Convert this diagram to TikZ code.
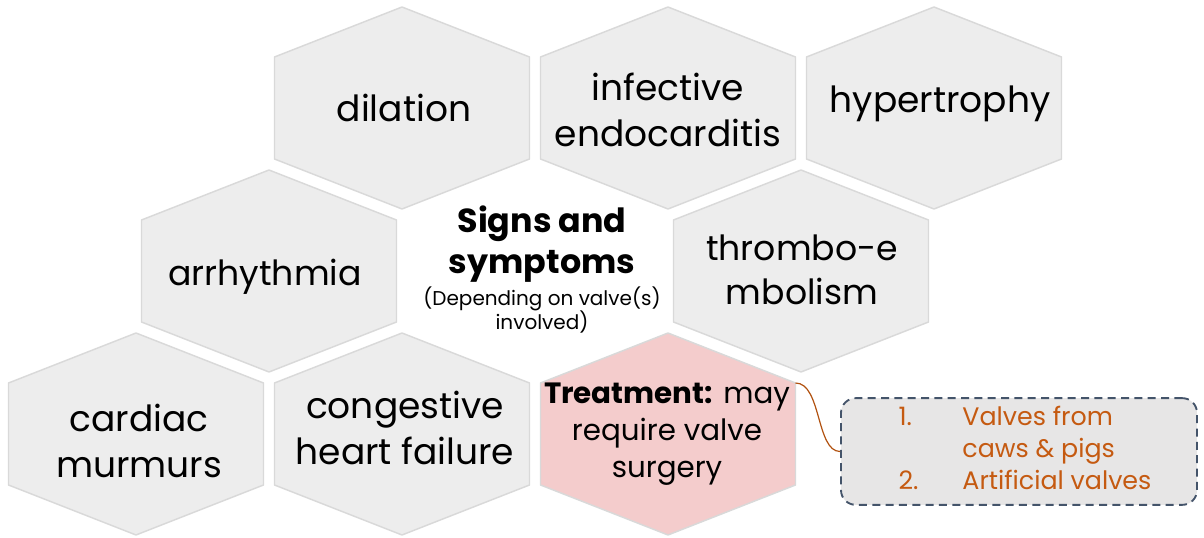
\documentclass[tikz,border=0pt]{standalone}
\usepackage{fontspec}
\setmainfont{Poppins}
\usetikzlibrary{positioning}

\definecolor{hexgray}{RGB}{237,237,237}
\definecolor{hexedge}{RGB}{217,217,217}
\definecolor{hexpink}{RGB}{244,204,204}
\definecolor{boxfill}{RGB}{231,230,230}
\definecolor{boxedge}{RGB}{68,84,106}
\definecolor{rust}{RGB}{197,90,17}

\tikzset{
  hexcell/.style={draw=hexedge, line width=1.1pt, line join=round},
  celltext/.style={align=center, text=black, font=\fontsize{27}{34}\selectfont},
  optionbox/.style={draw=boxedge, fill=boxfill, dashed, line width=1.4pt,
    dash pattern=on 6pt off 4pt, rounded corners=11pt,
    minimum width=267pt, minimum height=80pt, inner sep=0pt},
  calloutline/.style={draw=rust!90!black, line width=0.9pt}
}

\begin{document}
\begin{tikzpicture}[x=0.75pt, y=-0.75pt]
  \useasboundingbox (0,0) rectangle (1204,538);
  % Draw the honeycomb cells
  \foreach \cx/\cy/\col in {402/108/hexgray, 668/108/hexgray, 934/108/hexgray,
                            269/271/hexgray, 801/271/hexgray,
                            136/434/hexgray, 402/434/hexgray, 668/434/hexpink} {
    \filldraw[hexcell, fill=\col] (\cx,\cy-101) -- (\cx+127.5,\cy-51) -- (\cx+127.5,\cy+51)
      -- (\cx,\cy+101) -- (\cx-127.5,\cy+51) -- (\cx-127.5,\cy-51) -- cycle;
  }

  % Cell labels
  \node[celltext] (dilation) at (404,108) {dilation};
  \node[celltext] (endocarditis) at (668,110) {infective\\endocarditis};
  \node[celltext] (hypertrophy) at (940,104) {hypertrophy};
  \node[celltext, font=\fontsize{26}{33}\selectfont] (arrhythmia) at (265,277) {arrhythmia};
  \node[celltext, font=\fontsize{26}{33}\selectfont] (thrombo) at (802,270) {thrombo-e\\mbolism};
  \node[celltext] (murmurs) at (139,441) {cardiac\\murmurs};
  \node[celltext] (heartfail) at (405,428) {congestive\\heart failure};
  \node[celltext, font=\fontsize{22}{28}\selectfont] (treatment) at (667,434)
    {\textbf{Treatment:} may\\require valve\\surgery};

  % Centre of the honeycomb
  \node[align=center, font=\fontsize{25}{31}\selectfont\bfseries] (signs) at (542,244)
    {Signs and\\symptoms};
  \node[align=center, font=\fontsize{15}{18.5}\selectfont, below=-4pt of signs] (signsnote)
    {(Depending on valve(s)\\involved)};

  % Treatment options and callout
  \node[optionbox] (options) at (1019,451.5)
    {\fontsize{19}{24}\selectfont\color{rust}\hspace*{9pt}%
     \begin{tabular}{@{}l@{\hspace{33pt}}l@{}}
       1. & Valves from\\
          & caws \& pigs\\
       2. & Artificial valves
     \end{tabular}};
  \coordinate (treat-ne) at (795.5,383);
  \draw[calloutline] (treat-ne) .. controls +(26,0) and +(-24,0) .. (options.west);

\end{tikzpicture}
\end{document}
